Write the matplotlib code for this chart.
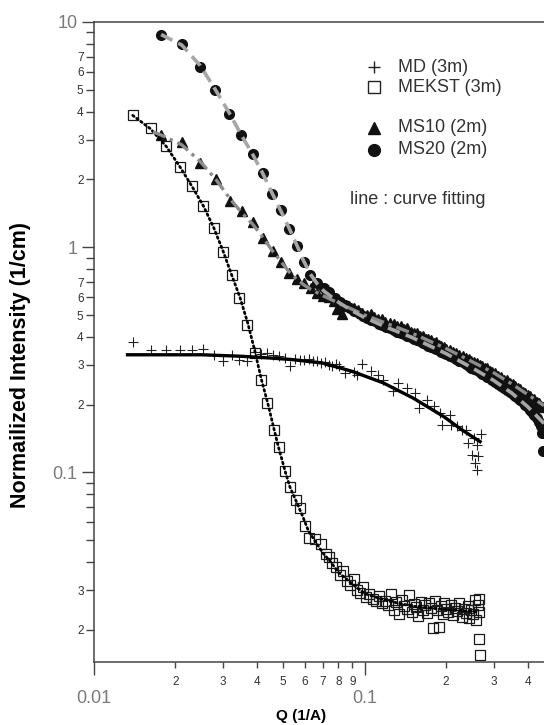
import matplotlib
matplotlib.use("Agg")
import matplotlib.pyplot as plt
from matplotlib.ticker import FixedLocator, FuncFormatter

plt.rcParams["font.family"] = ["Liberation Sans", "DejaVu Sans"]

# MD (3m), plus markers
md_q = [0.0139, 0.0162, 0.0184, 0.0207, 0.0230, 0.0253, 0.0277, 0.0300, 0.0323, 0.0344,
        0.0367, 0.0392, 0.0414, 0.0436, 0.0460, 0.0484, 0.0507, 0.0530, 0.0553, 0.0576,
        0.0599, 0.0622, 0.0645, 0.0668, 0.0691, 0.0714, 0.0737, 0.0760, 0.0783, 0.0806,
        0.0846, 0.0914, 0.0938, 0.0980, 0.1053, 0.1124, 0.1168, 0.1278, 0.1329, 0.1436,
        0.1530, 0.1591, 0.1696, 0.1809, 0.1905, 0.1930, 0.2059, 0.2085, 0.2196, 0.2282,
        0.2371, 0.2403, 0.2529, 0.2698, 0.2594, 0.2497, 0.2630, 0.2561, 0.2594]
md_i = [0.378, 0.351, 0.351, 0.351, 0.351, 0.353, 0.333, 0.311, 0.333, 0.317,
        0.311, 0.341, 0.334, 0.339, 0.333, 0.328, 0.322, 0.296, 0.320, 0.317,
        0.315, 0.318, 0.311, 0.313, 0.306, 0.309, 0.300, 0.296, 0.302, 0.296,
        0.2765, 0.2782, 0.2717, 0.3041, 0.2811, 0.2717, 0.2582, 0.2291, 0.2496, 0.2372,
        0.2254, 0.1933, 0.2103, 0.1965, 0.1837, 0.1629, 0.1805, 0.1629, 0.1601, 0.1548,
        0.1548, 0.1351, 0.1422, 0.1486, 0.1327, 0.1199, 0.1178, 0.1101, 0.1028]
md_fit_q = [0.0133, 0.025, 0.035, 0.045, 0.054, 0.070, 0.090, 0.117, 0.151, 0.196, 0.228, 0.267]
md_fit_i = [0.333, 0.333, 0.328, 0.322, 0.317, 0.306, 0.281, 0.250, 0.214, 0.177, 0.155, 0.137]

# MEKST (3m), open squares
mekst_q = [0.0139, 0.0162, 0.0184, 0.0207, 0.0230, 0.0253, 0.0277, 0.0300, 0.0323, 0.0344,
           0.0367, 0.0392, 0.0414, 0.0436, 0.0464, 0.0481, 0.0509, 0.0528, 0.0558, 0.0578,
           0.0604, 0.0621, 0.0654, 0.0691, 0.0719, 0.0737, 0.0760, 0.0785, 0.0810, 0.0835,
           0.0860, 0.0885, 0.0910, 0.0935, 0.0960, 0.0985, 0.101, 0.104, 0.107, 0.110,
           0.113, 0.116, 0.119, 0.122, 0.125, 0.128, 0.131, 0.134, 0.137, 0.140,
           0.143, 0.146, 0.149, 0.152, 0.155, 0.158, 0.161, 0.164, 0.167, 0.170,
           0.173, 0.176, 0.179, 0.182, 0.185, 0.188, 0.191, 0.194, 0.197, 0.200,
           0.204, 0.208, 0.212, 0.216, 0.220, 0.224, 0.228, 0.232, 0.236, 0.240,
           0.244, 0.248, 0.252, 0.256, 0.259, 0.262, 0.264, 0.265, 0.265, 0.266]
mekst_i = [3.87, 3.37, 2.82, 2.27, 1.87, 1.53, 1.22, 0.954, 0.749, 0.598,
           0.453, 0.339, 0.256, 0.203, 0.154, 0.130, 0.101, 0.0861, 0.0756, 0.0695,
           0.0581, 0.0514, 0.0506, 0.0481, 0.0435, 0.0420, 0.0395, 0.0380, 0.0350, 0.0365,
           0.0330, 0.0318, 0.0335, 0.0300, 0.0292, 0.0310, 0.0280, 0.0288, 0.0275, 0.0268,
           0.0283, 0.0262, 0.0270, 0.0258, 0.0290, 0.0245, 0.0265, 0.0235, 0.0272, 0.0255,
           0.0248, 0.0286, 0.0240, 0.0260, 0.0252, 0.0230, 0.0266, 0.0246, 0.0258, 0.0238,
           0.0262, 0.0250, 0.0203, 0.0270, 0.0244, 0.0206, 0.0255, 0.0236, 0.0262, 0.0248,
           0.0240, 0.0258, 0.0232, 0.0250, 0.0242, 0.0262, 0.0228, 0.0248, 0.0238, 0.0255,
           0.0226, 0.0246, 0.0236, 0.0272, 0.0222, 0.0258, 0.0240, 0.0275, 0.0183, 0.0155]
mekst_fit_q = [0.0139, 0.0162, 0.0185, 0.0208, 0.0231, 0.0254, 0.0277, 0.0300, 0.0323, 0.0346,
               0.0370, 0.0392, 0.0415, 0.0440, 0.0460, 0.0480, 0.0510, 0.0530, 0.0560, 0.0590,
               0.0620, 0.0660, 0.0700, 0.0750, 0.0800, 0.0900, 0.100, 0.120, 0.150, 0.200, 0.265]
mekst_fit_i = [3.85, 3.35, 2.80, 2.27, 1.85, 1.52, 1.22, 0.96, 0.75, 0.60,
               0.46, 0.35, 0.26, 0.20, 0.16, 0.13, 0.10, 0.086, 0.074, 0.064,
               0.055, 0.049, 0.044, 0.040, 0.036, 0.032, 0.029, 0.027, 0.0255, 0.0246, 0.0240]

# MS10 (2m), filled triangles
ms10_q = [0.0177, 0.0212, 0.0247, 0.0282, 0.0317, 0.0352, 0.0387, 0.0422, 0.0457, 0.0492,
          0.0527, 0.0562, 0.0597, 0.0632, 0.0667, 0.0702, 0.0737, 0.0772, 0.0790, 0.0807,
          0.0825, 0.0842, 0.0877, 0.0912, 0.0947, 0.0982, 0.1017, 0.1052, 0.1087, 0.1122,
          0.1157, 0.1192, 0.124, 0.128, 0.132, 0.136, 0.140, 0.144, 0.148, 0.152,
          0.156, 0.160, 0.164, 0.168, 0.172, 0.176, 0.180, 0.184, 0.188, 0.192,
          0.196, 0.200, 0.206, 0.212, 0.218, 0.224, 0.230, 0.236, 0.242, 0.248,
          0.254, 0.260, 0.266, 0.272, 0.278, 0.284, 0.290, 0.296, 0.304, 0.312,
          0.320, 0.328, 0.336, 0.344, 0.352, 0.360, 0.368, 0.376, 0.384, 0.392,
          0.400, 0.408, 0.416, 0.424, 0.432, 0.440, 0.448, 0.456]
ms10_i = [3.15, 2.92, 2.37, 2.00, 1.60, 1.45, 1.29, 1.10, 0.962, 0.860,
          0.770, 0.724, 0.695, 0.660, 0.627, 0.606, 0.600, 0.578, 0.530, 0.575,
          0.505, 0.556, 0.548, 0.536, 0.524, 0.512, 0.500, 0.505, 0.488, 0.478,
          0.482, 0.466, 0.462, 0.455, 0.447, 0.445, 0.432, 0.436, 0.422, 0.418,
          0.414, 0.402, 0.405, 0.393, 0.390, 0.386, 0.376, 0.380, 0.368, 0.366,
          0.360, 0.352, 0.350, 0.343, 0.340, 0.331, 0.330, 0.322, 0.320, 0.313,
          0.310, 0.305, 0.300, 0.298, 0.290, 0.290, 0.282, 0.279, 0.275, 0.268,
          0.266, 0.258, 0.256, 0.250, 0.246, 0.242, 0.236, 0.234, 0.228, 0.226,
          0.220, 0.218, 0.212, 0.211, 0.205, 0.204, 0.198, 0.196]
ms10_fit_q = [0.0165, 0.0177, 0.0211, 0.0247, 0.0282, 0.0317, 0.0352, 0.0387, 0.0422, 0.0457,
              0.0492, 0.0527, 0.0562, 0.0597, 0.0632, 0.070, 0.080, 0.090, 0.100, 0.120,
              0.150, 0.200, 0.250, 0.300, 0.350, 0.400, 0.460]
ms10_fit_i = [3.25, 3.15, 2.85, 2.40, 2.00, 1.65, 1.42, 1.26, 1.10, 0.96,
              0.86, 0.775, 0.72, 0.68, 0.65, 0.61, 0.565, 0.53, 0.50, 0.46,
              0.415, 0.355, 0.31, 0.277, 0.247, 0.222, 0.198]

# MS20 (2m), filled circles
ms20_q = [0.0177, 0.0211, 0.0247, 0.0281, 0.0316, 0.0350, 0.0386, 0.0421, 0.0455, 0.0491,
          0.0527, 0.0562, 0.0595, 0.0630, 0.0667, 0.0706, 0.0741, 0.0776, 0.0811, 0.0846,
          0.0881, 0.0916, 0.0951, 0.0986, 0.1021, 0.1056, 0.1091, 0.1126, 0.1161, 0.1196,
          0.124, 0.128, 0.132, 0.136, 0.140, 0.144, 0.148, 0.152, 0.156, 0.160,
          0.164, 0.168, 0.172, 0.176, 0.180, 0.184, 0.188, 0.192, 0.196, 0.200,
          0.206, 0.212, 0.218, 0.224, 0.230, 0.236, 0.242, 0.248, 0.254, 0.260,
          0.266, 0.272, 0.278, 0.284, 0.290, 0.296, 0.304, 0.312, 0.320, 0.328,
          0.336, 0.344, 0.352, 0.360, 0.368, 0.376, 0.384, 0.392, 0.400, 0.408,
          0.416, 0.424, 0.432, 0.440, 0.448, 0.452, 0.456]
ms20_i = [8.75, 8.02, 6.31, 4.99, 3.91, 3.15, 2.59, 2.14, 1.73, 1.46,
          1.21, 1.01, 0.861, 0.756, 0.695, 0.660, 0.630, 0.598, 0.572, 0.555,
          0.538, 0.520, 0.508, 0.494, 0.486, 0.474, 0.468, 0.458, 0.452, 0.442,
          0.436, 0.428, 0.422, 0.414, 0.410, 0.402, 0.398, 0.392, 0.388, 0.382,
          0.376, 0.372, 0.366, 0.362, 0.358, 0.352, 0.348, 0.344, 0.340, 0.336,
          0.330, 0.324, 0.318, 0.313, 0.308, 0.302, 0.298, 0.292, 0.288, 0.284,
          0.279, 0.274, 0.270, 0.266, 0.262, 0.258, 0.253, 0.248, 0.243, 0.238,
          0.233, 0.228, 0.224, 0.219, 0.214, 0.210, 0.205, 0.200, 0.196, 0.190,
          0.186, 0.180, 0.175, 0.168, 0.160, 0.150, 0.124]
ms20_fit_q = [0.0177, 0.0211, 0.0247, 0.0281, 0.0316, 0.0350, 0.0386, 0.0420, 0.0455, 0.0490,
              0.0527, 0.0562, 0.0595, 0.0630, 0.0667, 0.0706, 0.080, 0.090, 0.100, 0.120,
              0.150, 0.200, 0.250, 0.300, 0.350, 0.400, 0.460]
ms20_fit_i = [8.8, 7.9, 6.4, 5.0, 3.95, 3.15, 2.58, 2.13, 1.74, 1.45,
              1.21, 1.02, 0.87, 0.76, 0.69, 0.64, 0.57, 0.522, 0.487, 0.442,
              0.397, 0.337, 0.291, 0.256, 0.225, 0.196, 0.165]

x_minor_labels = {0.02: "2", 0.03: "3", 0.04: "4", 0.05: "5", 0.06: "6", 0.07: "7",
                  0.08: "8", 0.09: "9", 0.2: "2", 0.3: "3", 0.4: "4"}
y_minor_labels = {0.02: "2", 0.03: "3", 0.2: "2", 0.3: "3", 0.4: "4", 0.5: "5",
                  0.6: "6", 0.7: "7", 2: "2", 3: "3", 4: "4", 5: "5", 6: "6", 7: "7"}
major_labels = {0.01: "0.01", 0.1: "0.1", 1: "1", 10: "10"}


def label_formatter(labels):
    def fmt(v, pos):
        for k, s in labels.items():
            if abs(v - k) < 1e-6 * k:
                return s
        return ""
    return FuncFormatter(fmt)


fig = plt.figure(figsize=(5.44, 7.25), dpi=100)
ax = fig.add_axes([94 / 544, 63 / 725, 1 - 94 / 544, 640 / 725])
ax.set_xscale("log")
ax.set_yscale("log")
ax.set_xlim(0.01, 0.46)
ax.set_ylim(0.0144, 10)

ax.plot(md_q, md_i, ls="none", marker="+", ms=7, mew=0.8, color="#222222", zorder=2)
ax.plot(mekst_q, mekst_i, ls="none", marker="s", ms=7, mew=0.9, mfc="none",
        mec="#1a1a1a", zorder=2)
ax.plot(ms10_q, ms10_i, ls="none", marker="^", ms=7.5, color="#111111", zorder=2)
ax.plot(ms20_q, ms20_i, ls="none", marker="o", ms=7, color="#111111", zorder=2)

ax.plot(md_fit_q, md_fit_i, color="black", lw=2.4, zorder=3)
ax.plot(mekst_fit_q, mekst_fit_i, color="black", lw=2.0, ls=(0, (0.6, 1.2)),
        dash_capstyle="round", zorder=3)
ax.plot(ms10_fit_q, ms10_fit_i, color="#8c8c8c", lw=2.4, ls=(0, (4, 1.5, 1, 1.5)), zorder=3)
ax.plot(ms20_fit_q, ms20_fit_i, color="#a6a6a6", lw=2.6, ls=(0, (3.5, 1.8)), zorder=3)

ax.spines["right"].set_visible(False)
for side in ("left", "bottom", "top"):
    ax.spines[side].set_color("#444444")
    ax.spines[side].set_linewidth(1.1)

ax.xaxis.set_major_locator(FixedLocator([0.01, 0.1]))
ax.xaxis.set_major_formatter(label_formatter(major_labels))
ax.xaxis.set_minor_locator(FixedLocator([k * 0.01 for k in range(2, 10)]
                                        + [k * 0.1 for k in range(2, 5)]))
ax.xaxis.set_minor_formatter(label_formatter(x_minor_labels))
ax.yaxis.set_major_locator(FixedLocator([0.1, 1, 10]))
ax.yaxis.set_major_formatter(label_formatter(major_labels))
ax.yaxis.set_minor_locator(FixedLocator([k * 0.01 for k in range(2, 10)]
                                        + [k * 0.1 for k in range(2, 10)]
                                        + [k * 1.0 for k in range(2, 10)]))
ax.yaxis.set_minor_formatter(label_formatter(y_minor_labels))

ax.tick_params(axis="x", which="major", direction="out", length=9, width=1.0,
               color="#444444", labelsize=13, labelcolor="#7a7a7a", pad=11)
ax.tick_params(axis="y", which="major", direction="out", length=9, width=1.0,
               color="#444444", labelsize=13, labelcolor="#7a7a7a", pad=3)
ax.tick_params(axis="x", which="minor", direction="out", length=4, width=1.0,
               color="#444444", labelsize=8.5, labelcolor="#333333", pad=6)
ax.tick_params(axis="y", which="minor", direction="out", length=5.5, width=1.0,
               color="#444444", labelsize=8.5, labelcolor="#333333", pad=2)
ax.tick_params(top=False, right=False, which="both")

ax.set_xlabel("Q (1/A)", fontsize=11, fontweight="bold")
ax.xaxis.set_label_coords((301 - 94) / 450, (662 - 709) / 640)
ax.set_ylabel("Normailized Intensity (1/cm)", fontsize=15.5, fontweight="bold")
ax.yaxis.set_label_coords((31 - 94) / 450, (662 - 365) / 640)

# hand-made legend
ax_w, ax_h = 450.0, 640.0
mx = (374 - 94) / ax_w
tx = (398 - 94) / ax_w
legend_rows = [(67, "+", "MD (3m)", dict(ms=9, mew=1.0, color="#222222")),
               (87, "s", "MEKST (3m)", dict(ms=8, mew=1.0, mfc="none", mec="#222222")),
               (128, "^", "MS10 (2m)", dict(ms=9, color="#111111")),
               (150, "o", "MS20 (2m)", dict(ms=8.5, color="#111111"))]
for ypix, mk, label, style in legend_rows:
    yf = (662 - ypix) / ax_h
    ax.plot([mx], [yf], marker=mk, ls="none", transform=ax.transAxes, clip_on=False, **style)
    ax.text(tx, yf, label, transform=ax.transAxes, fontsize=13, color="#333333",
            va="center", ha="left")
ax.text((350 - 94) / ax_w, (662 - 199) / ax_h, "line : curve fitting", transform=ax.transAxes,
        fontsize=13, color="#333333", va="center", ha="left")

fig.savefig("out.png", dpi=100)
